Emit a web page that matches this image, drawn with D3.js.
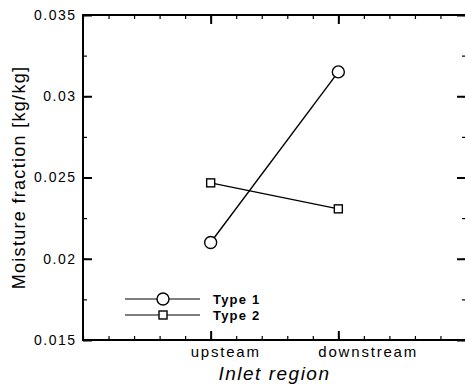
<!DOCTYPE html>
<html><head><meta charset="utf-8">
<script src="https://cdn.jsdelivr.net/npm/d3@7"></script>
<style>
html,body{margin:0;padding:0;background:#fff;}
svg text{font-family:"Liberation Sans",Arial,sans-serif;fill:#000;}
</style></head>
<body><svg id="c" width="465" height="384"></svg>
<script>
const categories = ["upsteam", "downstream"];
const categoryPos = [1, 2];
const seriesNames = ["Type 1", "Type 2"];
const type1 = [0.0210, 0.0315];
const type2 = [0.02467, 0.02307];
const yTicks = [0.015, 0.02, 0.025, 0.03, 0.035];
const yTickLabels = ["0.015", "0.02", "0.025", "0.03", "0.035"];

const svg = d3.select("#c");
const L = 83, R = 466, T = 15, B = 340;
const x = d3.scaleLinear().domain([0, 3]).range([L, R]);
const y = d3.scaleLinear().domain([0.015, 0.035]).range([B, T]);

const minorY = d3.range(0.015, 0.03501, 0.0025);
const minorX = d3.range(0, 3.001, 0.2);

// minor ticks
function drawAxis(gen, tr) {
  const g = svg.append("g").attr("transform", tr).call(gen);
  g.select(".domain").remove();
  g.selectAll("line").attr("stroke", "#000").attr("stroke-width", 1.2);
  return g;
}
drawAxis(d3.axisLeft(y).tickValues(minorY).tickSize(-4).tickFormat(""), `translate(${L},0)`);
drawAxis(d3.axisRight(y).tickValues(minorY).tickSize(-4).tickFormat(""), `translate(${R},0)`);
drawAxis(d3.axisBottom(x).tickValues(minorX).tickSize(-4).tickFormat(""), `translate(0,${B})`);
drawAxis(d3.axisTop(x).tickValues(minorX).tickSize(-4).tickFormat(""), `translate(0,${T})`);

// major ticks
const ly = drawAxis(d3.axisLeft(y).tickValues(yTicks).tickSize(-9).tickPadding(8)
  .tickFormat((d, i) => yTickLabels[i]), `translate(${L},0)`);
ly.selectAll("line").attr("stroke-width", 2);
ly.selectAll("text").attr("font-size", 14).attr("letter-spacing", "1.5px").attr("dx", "1.5px").attr("font-family", null);
drawAxis(d3.axisRight(y).tickValues(yTicks).tickSize(-9).tickFormat(""), `translate(${R},0)`).selectAll("line").attr("stroke-width", 2);
const bx = drawAxis(d3.axisBottom(x).tickValues(categoryPos).tickSize(-9).tickFormat(""), `translate(0,${B})`);
bx.selectAll("line").attr("stroke-width", 2);
drawAxis(d3.axisTop(x).tickValues(categoryPos).tickSize(-9).tickFormat(""), `translate(0,${T})`).selectAll("line").attr("stroke-width", 2);

// category labels
svg.append("g").selectAll("text").data(categories).join("text")
  .attr("x", (d, i) => x(categoryPos[i]) - 20)
  .attr("y", B + 17)
  .attr("font-size", 15).attr("letter-spacing", "1.8px")
  .text(d => d);

// frame
svg.append("rect").attr("x", L).attr("y", T).attr("width", R - L).attr("height", B - T)
  .attr("fill", "none").attr("stroke", "#000").attr("stroke-width", 2);

// axis titles
svg.append("text").attr("x", (L + R) / 2).attr("y", 380).attr("text-anchor", "middle")
  .attr("font-size", 19).attr("font-style", "italic").attr("letter-spacing", "1.5px")
  .text("Inlet region");
svg.append("text").attr("transform", `translate(25,${(T + B) / 2}) rotate(-90)`)
  .attr("text-anchor", "middle").attr("font-size", 18).attr("letter-spacing", "1.3px")
  .text("Moisture fraction [kg/kg]");

// series
const line = d3.line().x((d, i) => x(categoryPos[i])).y(d => y(d));
[type1, type2].forEach(s => {
  svg.append("path").datum(s).attr("d", line).attr("fill", "none")
    .attr("stroke", "#000").attr("stroke-width", 1.4);
});
svg.append("g").selectAll("circle").data(type1).join("circle")
  .attr("cx", (d, i) => x(categoryPos[i])).attr("cy", d => y(d)).attr("r", 6)
  .attr("fill", "#fff").attr("stroke", "#000").attr("stroke-width", 1.4);
svg.append("g").selectAll("rect").data(type2).join("rect")
  .attr("x", (d, i) => x(categoryPos[i]) - 4).attr("y", d => y(d) - 4)
  .attr("width", 8).attr("height", 8)
  .attr("fill", "#fff").attr("stroke", "#000").attr("stroke-width", 1.4);

// legend
const lg = svg.append("g").attr("transform", "translate(125,299)");
seriesNames.forEach((name, i) => {
  const g = lg.append("g").attr("transform", `translate(0,${i * 16})`);
  g.append("line").attr("x1", 0).attr("x2", 75).attr("stroke", "#000").attr("stroke-width", 1.2);
  if (i === 0) g.append("circle").attr("cx", 38).attr("r", 6).attr("fill", "#fff").attr("stroke", "#000").attr("stroke-width", 1.4);
  else g.append("rect").attr("x", 34).attr("y", -4).attr("width", 8).attr("height", 8).attr("fill", "#fff").attr("stroke", "#000").attr("stroke-width", 1.4);
  g.append("text").attr("x", 88).attr("y", 4.5).attr("font-size", 13).attr("font-weight", "bold")
    .attr("letter-spacing", "1.2px").text(name);
});
</script></body></html>
